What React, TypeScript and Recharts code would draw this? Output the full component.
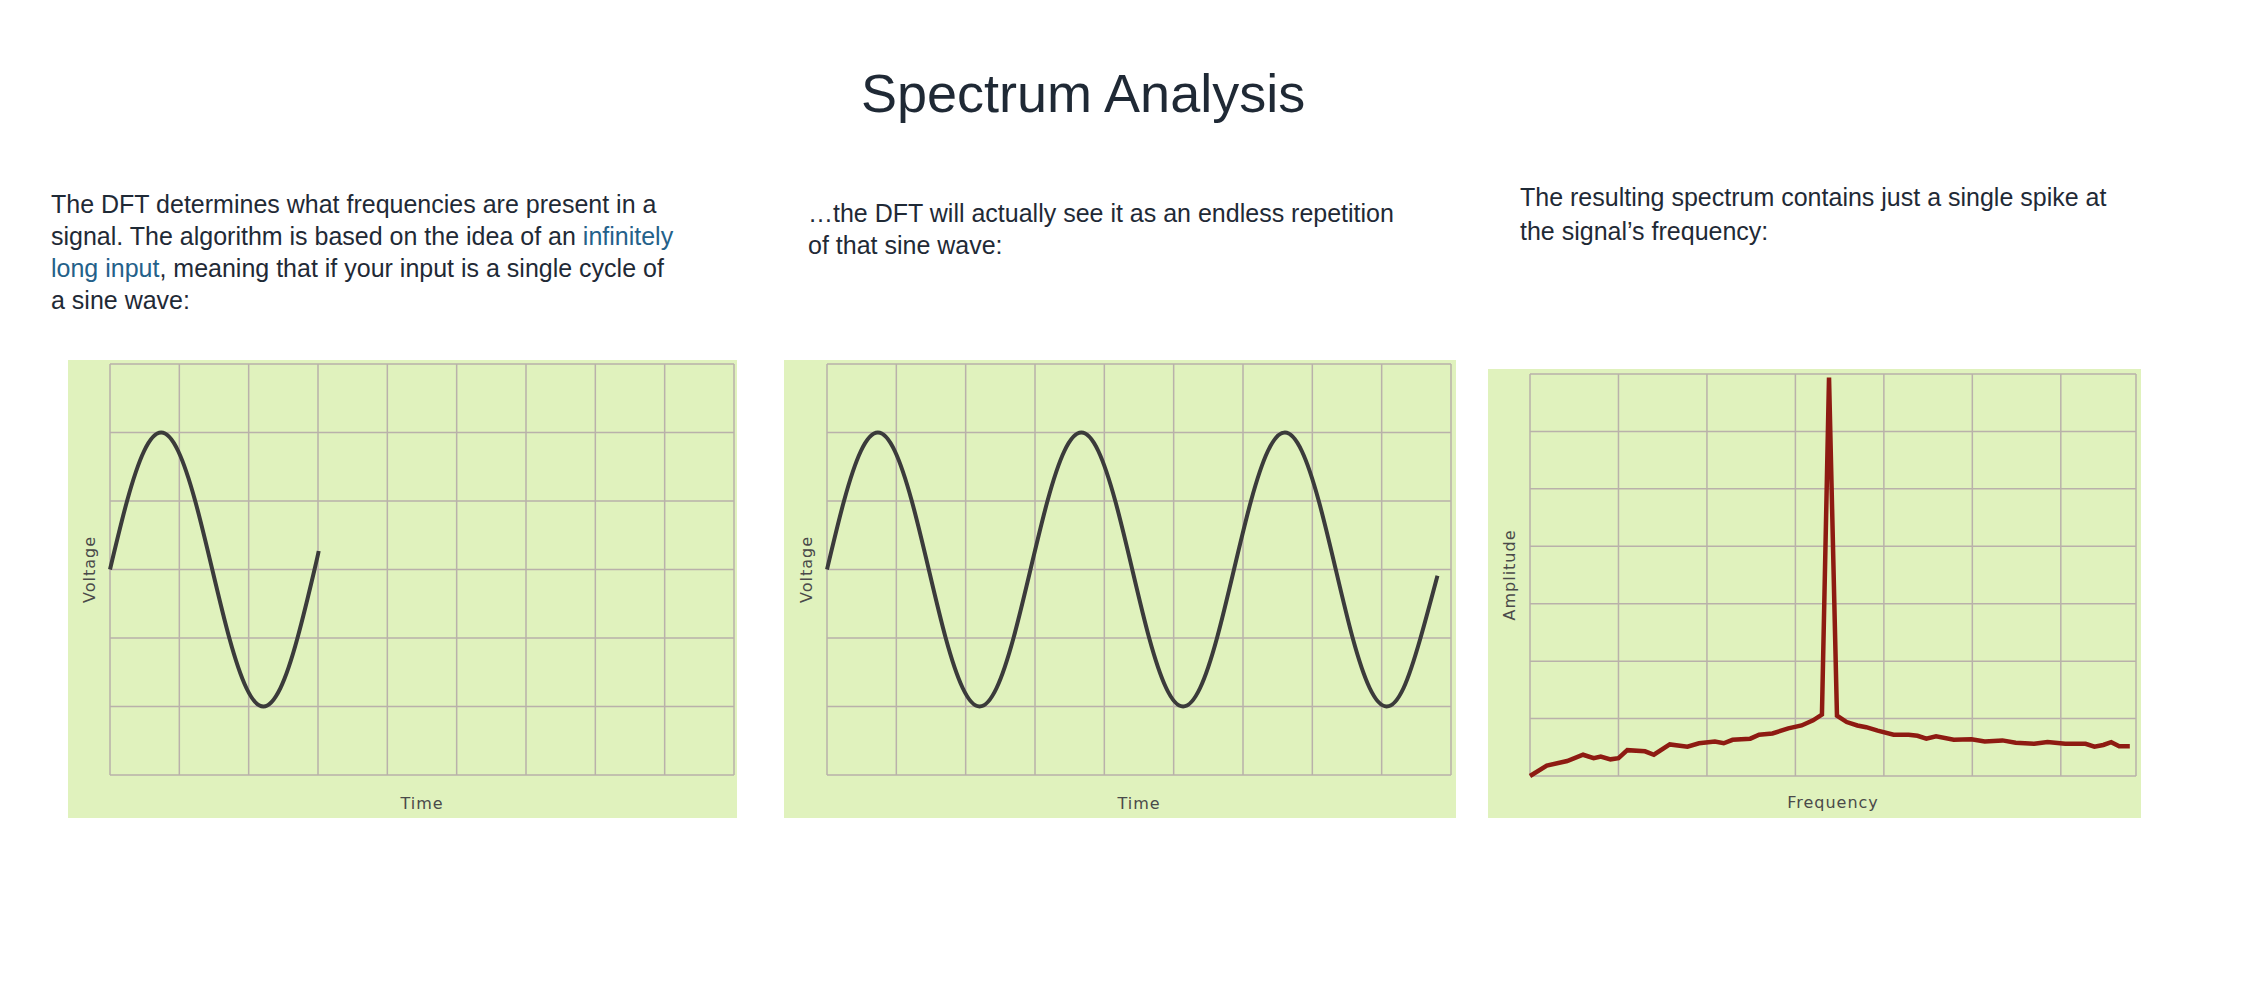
import React from 'react';
import { LineChart, Line, XAxis, YAxis, CartesianGrid } from 'recharts';

// single cycle of the input sine (x in grid columns, y in grid rows)
const singleTime = [0, 0.246, 0.492, 0.738, 0.983, 1.229, 1.475, 1.721, 1.967, 2.213, 2.458, 2.704, 2.95, 3.01];
const singleVoltage = [0, 1, 1.73, 2, 1.73, 1, 0, -1, -1.73, -2, -1.73, -1, 0, 0.27];

// the same wave as the DFT sees it, repeated
const repeatTime = [
  0, 0.245, 0.489, 0.734, 0.978, 1.223, 1.468, 1.712, 1.957, 2.201, 2.446, 2.69,
  2.935, 3.18, 3.424, 3.669, 3.913, 4.158, 4.403, 4.647, 4.892, 5.136, 5.381, 5.625,
  5.87, 6.115, 6.359, 6.604, 6.848, 7.093, 7.338, 7.582, 7.827, 8.071, 8.316, 8.56, 8.805,
];
const repeatVoltage = [
  0, 1, 1.73, 2, 1.73, 1, 0, -1, -1.73, -2, -1.73, -1,
  0, 1, 1.73, 2, 1.73, 1, 0, -1, -1.73, -2, -1.73, -1,
  0, 1, 1.73, 2, 1.73, 1, 0, -1, -1.73, -2, -1.73, -1, -0.09,
];

// spectrum
const spectrumFreq = [
  0, 0.19, 0.42, 0.6, 0.72, 0.8, 0.91, 1.0, 1.1, 1.3, 1.4, 1.58, 1.78, 1.91, 2.09, 2.19,
  2.29, 2.49, 2.59, 2.74, 2.92, 3.07, 3.2, 3.3, 3.38, 3.47, 3.58, 3.7, 3.8, 3.93, 4.11,
  4.28, 4.38, 4.48, 4.59, 4.79, 4.99, 5.14, 5.34, 5.49, 5.7, 5.85, 6.05, 6.28, 6.38,
  6.48, 6.57, 6.66, 6.78,
];
const spectrumAmp = [
  0, 0.18, 0.26, 0.37, 0.31, 0.34, 0.29, 0.31, 0.45, 0.43, 0.37, 0.55, 0.51, 0.57, 0.6, 0.57,
  0.63, 0.65, 0.72, 0.74, 0.83, 0.88, 0.97, 1.07, 6.94, 1.05, 0.94, 0.88, 0.85, 0.79, 0.72,
  0.72, 0.7, 0.65, 0.69, 0.63, 0.64, 0.6, 0.62, 0.58, 0.56, 0.59, 0.56, 0.56, 0.51,
  0.54, 0.59, 0.52, 0.52,
];

const timeTicks = [0, 1, 2, 3, 4, 5, 6, 7, 8, 9];
const voltageTicks = [-3, -2, -1, 0, 1, 2, 3];
const freqTicks = [0, 1, 2, 3, 4, 5, 6, 6.85];
const ampTicks = [0, 1, 2, 3, 4, 5, 6, 7];

const singleData = singleTime.map((t, i) => ({ t, v: singleVoltage[i] }));
const repeatData = repeatTime.map((t, i) => ({ t, v: repeatVoltage[i] }));
const spectrumData = spectrumFreq.map((f, i) => ({ f, a: spectrumAmp[i] }));

const BG = '#e0f2bd';
const GRID = '#b9b1aa';
const LABEL_FONT = { fontFamily: 'DejaVu Sans', fontSize: 16, fill: '#4a4a4a', letterSpacing: 1 };

// ticks stay in the axis (so the grid follows them) but draw nothing
const NoTick = () => <g />;

const textStyle: React.CSSProperties = {
  position: 'absolute',
  fontFamily: '"Liberation Sans", Arial, sans-serif',
  fontSize: 25,
  lineHeight: '32px',
  color: '#1f2a36',
};
const linkStyle: React.CSSProperties = { color: '#24618a' };

interface PanelProps {
  left: number;
  top: number;
  width: number;
  height: number;
  children: React.ReactNode;
}

const Panel: React.FC<PanelProps> = ({ left, top, width, height, children }) => (
  <div style={{ position: 'absolute', left, top, width, height, background: BG }}>{children}</div>
);

const App: React.FC = () => {
  return (
    <div style={{ position: 'absolute', left: 0, top: 0, width: 2250, height: 990, background: '#fff' }}>
      <div
        style={{
          position: 'absolute',
          left: 861,
          top: 66,
          fontFamily: '"Liberation Sans", Arial, sans-serif',
          fontSize: 54,
          lineHeight: '54px',
          color: '#1f2935',
          whiteSpace: 'nowrap',
        }}
      >
        Spectrum Analysis
      </div>

      <div style={{ ...textStyle, left: 51, top: 188, width: 630 }}>
        The DFT determines what frequencies are present in a signal. The algorithm is based on the idea of an{' '}
        <span style={linkStyle}>infinitely</span> <span style={linkStyle}>long input</span>, meaning that if your
        input is a single cycle of a sine wave:
      </div>
      <div style={{ ...textStyle, left: 808, top: 197, width: 605 }}>
        …the DFT will actually see it as an endless repetition of that sine wave:
      </div>
      <div style={{ ...textStyle, left: 1520, top: 180, width: 615, lineHeight: '34px' }}>
        The resulting spectrum contains just a single spike at the signal’s frequency:
      </div>

      {/* single cycle */}
      <Panel left={68} top={360} width={669} height={458}>
        <LineChart width={669} height={458} data={singleData} margin={{ top: 4, right: 3, bottom: 0, left: 0 }}>
          <CartesianGrid stroke={GRID} strokeWidth={1.5} />
          <XAxis
            dataKey="t"
            type="number"
            domain={[0, 9]}
            ticks={timeTicks}
            tick={NoTick}
            tickLine={false}
            axisLine={false}
            height={43}
            label={{ value: 'Time', position: 'insideBottom', offset: 9, style: LABEL_FONT }}
          />
          <YAxis
            type="number"
            domain={[-3, 3]}
            ticks={voltageTicks}
            tick={NoTick}
            tickLine={false}
            axisLine={false}
            width={42}
            label={{ value: 'Voltage', position: 'center', angle: -90, style: LABEL_FONT }}
          />
          <Line type="natural" dataKey="v" stroke="#3b3b3b" strokeWidth={4} dot={false} isAnimationActive={false} />
        </LineChart>
      </Panel>

      {/* repeated */}
      <Panel left={784} top={360} width={672} height={458}>
        <LineChart width={672} height={458} data={repeatData} margin={{ top: 4, right: 5, bottom: 0, left: 1 }}>
          <CartesianGrid stroke={GRID} strokeWidth={1.5} />
          <XAxis
            dataKey="t"
            type="number"
            domain={[0, 9]}
            ticks={timeTicks}
            tick={NoTick}
            tickLine={false}
            axisLine={false}
            height={43}
            label={{ value: 'Time', position: 'insideBottom', offset: 9, style: LABEL_FONT }}
          />
          <YAxis
            type="number"
            domain={[-3, 3]}
            ticks={voltageTicks}
            tick={NoTick}
            tickLine={false}
            axisLine={false}
            width={42}
            label={{ value: 'Voltage', position: 'center', angle: -90, style: LABEL_FONT }}
          />
          <Line type="natural" dataKey="v" stroke="#3b3b3b" strokeWidth={4} dot={false} isAnimationActive={false} />
        </LineChart>
      </Panel>

      {/* spectrum */}
      <Panel left={1488} top={369} width={653} height={449}>
        <LineChart width={653} height={449} data={spectrumData} margin={{ top: 5, right: 5, bottom: 0, left: 0 }}>
          <CartesianGrid stroke={GRID} strokeWidth={1.5} />
          <XAxis
            dataKey="f"
            type="number"
            domain={[0, 6.85]}
            ticks={freqTicks}
            tick={NoTick}
            tickLine={false}
            axisLine={false}
            height={42}
            label={{ value: 'Frequency', position: 'insideBottom', offset: 10, style: LABEL_FONT }}
          />
          <YAxis
            type="number"
            domain={[0, 7]}
            ticks={ampTicks}
            tick={NoTick}
            tickLine={false}
            axisLine={false}
            width={42}
            label={{ value: 'Amplitude', position: 'center', angle: -90, style: LABEL_FONT }}
          />
          <Line type="linear" dataKey="a" stroke="#8e1b12" strokeWidth={4.5} dot={false} isAnimationActive={false} />
        </LineChart>
      </Panel>
    </div>
  );
};

export default App;
